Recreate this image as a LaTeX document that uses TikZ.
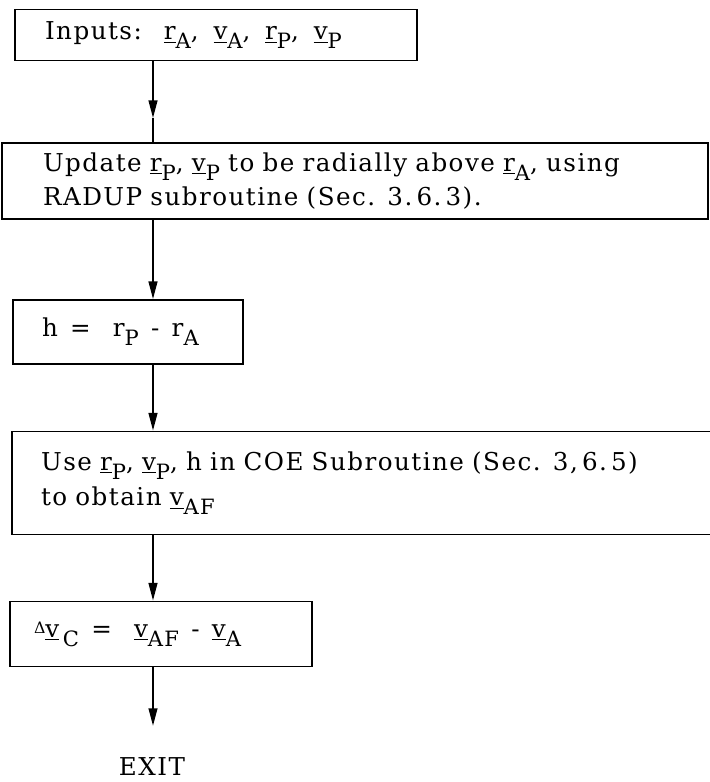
\documentclass[tikz,border=0pt]{standalone}
\usepackage{fontspec}
\setmainfont[LetterSpace=6]{DejaVu Serif}
\usetikzlibrary{arrows.meta}
\newcommand{\lowsub}[1]{\raisebox{-0.7ex}{\fontsize{12}{13}\selectfont #1}}
\newcommand{\vsub}[2]{\underline{#1}\lowsub{#2}}

\tikzset{
  box/.style={draw, line width=1.1pt, inner ysep=0pt, align=left,
    font=\fontsize{14}{17}\selectfont},
  flow/.style={-{Triangle[length=10pt,width=5pt]}, line width=1pt},
}

\begin{document}
\begin{tikzpicture}[x=0.02cm, y=-0.02cm]
\useasboundingbox (0,0) rectangle (710,782);

% --- boxes, top to bottom ---
\node[box, minimum width=8.04cm, minimum height=1.02cm, inner xsep=0.6cm, text width=6.84cm]
  (inputs) at (216,35) {Inputs:\hspace{0.9em}\vsub{r}{A},\hspace{0.6em}\vsub{v}{A},\hspace{0.6em}\vsub{r}{P},\hspace{0.6em}\vsub{v}{P}};
\node[box, minimum width=14.12cm, minimum height=1.52cm, inner xsep=0.82cm, text width=12.48cm,
  font=\fontsize{14}{19.5}\selectfont]
  (radup) at (355,181) {Update \vsub{r}{P}, \vsub{v}{P} to be radially above \vsub{r}{A}, using\\
  RADUP subroutine (Sec. 3.\,6.\,3).};
\node[box, minimum width=4.6cm, minimum height=1.28cm, inner xsep=0.58cm, text width=3.44cm]
  (hdiff) at (128,332) {h\hspace{0.5em}=\hspace{0.9em}r\lowsub{P}\hspace{0.5em}-\hspace{0.5em}r\lowsub{A}};
\node[box, minimum width=14.04cm, minimum height=2.06cm, inner xsep=0.58cm, text width=12.88cm,
  font=\fontsize{14}{20}\selectfont]
  (coe) at (363,483) {Use \vsub{r}{P}, \vsub{v}{P},\ h in COE Subroutine (Sec. 3,\,6.\,5)\\
  to obtain \vsub{v}{AF}};
\node[box, minimum width=6.04cm, minimum height=1.3cm, inner xsep=0.48cm, text width=5.08cm]
  (dvc) at (161,634) {\raisebox{0.3ex}{\small Δ}\vsub{v}{\,C}\hspace{0.5em}=\hspace{0.9em}\vsub{v}{AF}\hspace{0.5em}-\hspace{0.5em}\vsub{v}{A}};
\node[font=\fontsize{14}{17}\selectfont] (exit) at (152,767) {EXIT};

% --- flow lines ---
\coordinate (ax) at (153,0);
\coordinate (inmid) at (153,118);
\draw[flow] (inputs.south -| ax) -- (inmid);
\draw[line width=1pt] (inmid) -- (radup.north -| ax);
\draw[flow] (radup.south -| ax) -- (hdiff.north -| ax);
\draw[flow] (hdiff.south -| ax) -- (coe.north -| ax);
\draw[flow] (coe.south -| ax) -- (dvc.north -| ax);
\draw[flow, shorten >=0.52cm] (dvc.south -| ax) -- (exit.north -| ax);

\end{tikzpicture}
\end{document}
